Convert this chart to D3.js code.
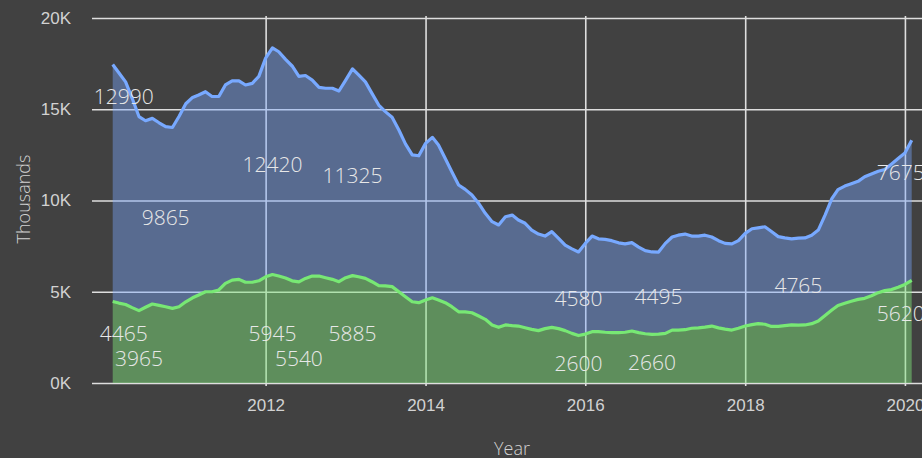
<!DOCTYPE html>
<html>
<head>
<meta charset="utf-8">
<script src="https://cdn.jsdelivr.net/npm/d3@7"></script>
<style>
  body { margin: 0; background: #414141; overflow: hidden; }
  svg { display: block; font-family: "Open Sans", sans-serif; }
</style>
</head>
<body>
<svg id="chart" width="922" height="458"></svg>
<script>
// monthly points, Feb 2010 .. Feb 2020
var months = d3.timeMonth.range(new Date(2010, 1, 1), new Date(2020, 2, 1))

// green series (bottom of stack)
var greenValues = [
    4465, 4380, 4300, 4130, 3965, 4150, 4330, 4250, 4180, 4090,
    4180, 4450, 4670, 4820, 5000, 5000, 5100, 5460, 5640, 5680,
    5520, 5520, 5600, 5820, 5945, 5860, 5750, 5600, 5540, 5730,
    5860, 5860, 5770, 5680, 5550, 5770, 5885, 5820, 5730, 5550,
    5330, 5320, 5280, 5000, 4730, 4450, 4400, 4550, 4670, 4550,
    4400, 4180, 3900, 3900, 3850, 3670, 3490, 3180, 3050, 3180,
    3140, 3120, 3030, 2940, 2870, 2980, 3050, 2980, 2870, 2720,
    2600, 2680, 2810, 2810, 2780, 2760, 2760, 2780, 2850, 2760,
    2700, 2660, 2680, 2720, 2900, 2900, 2920, 3000, 3020, 3060,
    3120, 3020, 2950, 2900, 3000, 3120, 3200, 3250, 3220, 3100,
    3100, 3140, 3180, 3170, 3180, 3250, 3400, 3700, 4000, 4250,
    4370, 4480, 4580, 4640, 4780, 4950, 5060, 5120, 5250, 5400,
    5620
]

// blue series (stacked on top of green)
var blueValues = [
    12990, 12620, 12200, 11470, 10635, 10220, 10170, 10010, 9865, 9910,
    10420, 10850, 10980, 10960, 10960, 10700, 10600, 10870, 10920, 10880,
    10810, 10900, 11200, 11980, 12420, 12290, 11980, 11770, 11260, 11120,
    10740, 10340, 10380, 10470, 10450, 10830, 11325, 11060, 10770, 10320,
    9900, 9550, 9280, 8860, 8370, 8050, 8050, 8580, 8790, 8490,
    7900, 7400, 6950, 6710, 6450, 6170, 5810, 5660, 5610, 5930,
    6060, 5810, 5720, 5440, 5290, 5070, 5240, 4950, 4690, 4630,
    4580, 4970, 5240, 5090, 5090, 5040, 4920, 4840, 4840, 4690,
    4550, 4520, 4495, 4930, 5100, 5200, 5240, 5050, 5030, 5040,
    4880, 4780, 4700, 4720, 4800, 5080, 5250, 5250, 5340, 5200,
    4920, 4810, 4720, 4765, 4770, 4850, 4980, 5500, 6100, 6350,
    6420, 6440, 6470, 6660, 6670, 6650, 6640, 6880, 7050, 7200,
    7675
]

var yTicks = [0, 5000, 10000, 15000, 20000]
var xTickYears = [2012, 2014, 2016, 2018, 2020]

// which points carry a value label, and the level (axis units) the label sits at
var greenLabelIdx = [0, 4, 24, 28, 36, 70, 81, 120]
var greenLabelLevel = [2320, 930, 2320, 930, 2320, 670, 710, 3410]
var blueLabelIdx = [0, 8, 24, 36, 70, 82, 103, 120]
var blueLabelLevel = [15290, 8660, 11560, 10960, 4220, 4330, 4930, 11120]

var svg = d3.select("#chart")
var W = 922, H = 458
var plotLeft = 92, plotTop = 18, plotBottom = 383

svg.append("rect").attr("width", W).attr("height", H).attr("fill", "#414141")

var xScale = d3.scaleTime()
    .domain([months[0], months[months.length - 1]])
    .range([112.7, 911.7])

var yScale = d3.scaleLinear()
    .domain([0, 20000])
    .range([plotBottom, plotTop])

var rows = months.map(function (m, i) {
    return { date: m, green: greenValues[i], blue: blueValues[i] }
})
var stacked = d3.stack().keys(["green", "blue"])(rows)

// y grid + labels
var yAxis = svg.append("g")
    .attr("transform", "translate(" + plotLeft + ",0)")
    .call(d3.axisLeft(yScale).tickValues(yTicks)
        .tickSize(-(W - plotLeft + 20)).tickPadding(21)
        .tickFormat(function (d) { return (d / 1000) + "K" }))
yAxis.select(".domain").remove()
yAxis.selectAll("line").attr("stroke", "#dedede").attr("stroke-width", 1.6)
yAxis.selectAll("text").attr("fill", "#d2d2d2").style("font-size", "17px").style("font-weight", 300)

// x grid + labels
var xAxis = svg.append("g")
    .attr("transform", "translate(0," + (plotBottom + 3) + ")")
    .call(d3.axisBottom(xScale)
        .tickValues(xTickYears.map(function (y) { return new Date(y, 0, 1) }))
        .tickSize(-(plotBottom + 3 - 16)).tickPadding(13)
        .tickFormat(d3.timeFormat("%Y")))
xAxis.select(".domain").remove()
xAxis.selectAll("line").attr("stroke", "#dedede").attr("stroke-width", 1.6)
xAxis.selectAll("text").attr("fill", "#d2d2d2").style("font-size", "17px").style("font-weight", 300)

var area = d3.area()
    .x(function (d) { return xScale(d.data.date) })
    .y0(function (d) { return yScale(d[0]) })
    .y1(function (d) { return yScale(d[1]) })

var line = d3.line()
    .x(function (d) { return xScale(d.data.date) })
    .y(function (d) { return yScale(d[1]) })

var fills = ["#80e67c", "#7aa6ff"]
var strokes = ["#78e874", "#78a9ff"]

svg.selectAll(".band")
    .data(stacked)
    .enter().append("path")
    .attr("class", "band")
    .attr("d", area)
    .attr("fill", function (d, i) { return fills[i] })
    .attr("fill-opacity", function (d, i) { return i == 0 ? 0.47 : 0.42 })

svg.selectAll(".serie")
    .data(stacked)
    .enter().append("path")
    .attr("class", "serie")
    .attr("d", line)
    .attr("fill", "none")
    .attr("stroke", function (d, i) { return strokes[i] })
    .attr("stroke-width", 3.2)
    .attr("stroke-linejoin", "round")

function addLabels(values, idx, levels) {
    var last = months.length - 1
    svg.append("g").selectAll("text")
        .data(idx)
        .enter().append("text")
        .attr("x", function (k) {
            var shift = k == 0 ? 11 : (k == last ? -11 : 0)
            return xScale(months[k]) + shift
        })
        .attr("y", function (k, i) { return yScale(levels[i]) })
        .attr("text-anchor", "middle")
        .attr("fill", "#e8e8e8")
        .style("font-size", "21px")
        .style("font-weight", 300)
        .text(function (k) { return values[k] })
}
addLabels(greenValues, greenLabelIdx, greenLabelLevel)
addLabels(blueValues, blueLabelIdx, blueLabelLevel)

svg.append("text")
    .attr("transform", "translate(30,199) rotate(-90)")
    .attr("text-anchor", "middle")
    .attr("fill", "#d2d2d2")
    .style("font-size", "18px")
    .style("font-weight", 300)
    .text("Thousands")

svg.append("text")
    .attr("x", 512)
    .attr("y", 455)
    .attr("text-anchor", "middle")
    .attr("fill", "#d2d2d2")
    .style("font-size", "18px")
    .style("font-weight", 300)
    .text("Year")
</script>
</body>
</html>
